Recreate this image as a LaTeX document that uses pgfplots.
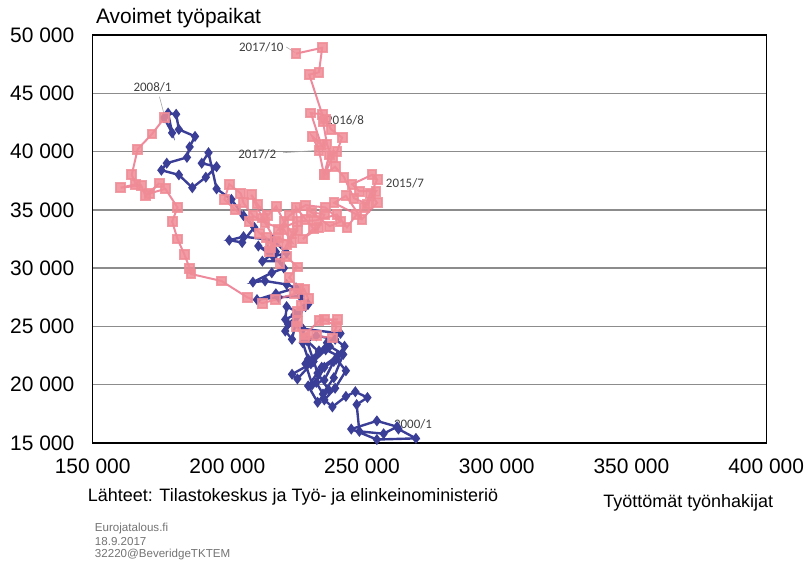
\documentclass[border=0pt]{standalone}
\usepackage{fontspec}
\setmainfont{Liberation Sans}
\newfontfamily\lblfont{Carlito}
\usepackage{pgfplots}
\pgfplotsset{compat=1.18}

\definecolor{bluel}{RGB}{58,62,150}
\definecolor{pinkl}{RGB}{236,118,140}
\definecolor{pinkm}{RGB}{240,140,150}
\definecolor{gridc}{RGB}{140,140,140}

% kuukausittaiset arvot (tuhansina): tyottomat tyonhakijat, avoimet tyopaikat
\pgfplotstableread{
x y
263.5 16.2
270.0 15.4
255.5 15.3
246.0 16.2
255.5 16.9
263.0 16.4
258.0 15.8
249.0 16.0
248.0 18.3
252.0 18.9
247.5 19.4
244.0 19.0
239.0 18.1
236.0 18.7
240.0 19.7
244.0 21.2
240.5 22.2
236.0 21.5
233.0 20.2
235.5 19.2
239.5 20.6
243.0 22.6
238.0 23.3
232.0 22.0
226.0 20.5
224.0 20.9
231.0 21.8
237.0 23.6
234.0 22.8
229.5 23.8
233.5 21.0
237.5 19.6
233.5 18.5
230.0 19.9
235.0 21.5
241.0 22.5
236.5 23.0
230.0 22.2
228.0 23.6
233.0 24.2
240.0 23.9
243.5 23.3
239.5 22.0
236.0 20.4
231.5 20.0
229.0 21.8
234.0 22.9
242.0 24.4
228.0 24.8
222.5 25.2
226.0 25.9
224.0 23.9
221.5 24.6
229.0 26.7
226.5 26.2
222.0 26.7
221.5 25.6
225.0 26.0
230.0 26.9
227.0 27.6
219.0 27.5
211.0 27.3
218.0 27.8
225.5 28.3
222.0 28.6
214.0 28.9
209.5 28.8
216.5 29.6
221.0 30.0
220.0 30.6
213.0 30.6
218.0 31.4
215.0 31.5
211.5 31.9
217.0 31.0
222.0 31.3
217.0 32.4
206.0 32.7
200.7 32.4
205.5 32.2
210.0 33.5
206.0 34.5
201.5 35.9
196.0 36.8
193.0 39.9
190.5 39.0
196.0 38.7
192.0 37.8
187.0 36.9
182.0 38.0
175.5 38.4
177.5 39.0
185.0 39.5
186.0 40.4
188.0 41.3
182.0 41.9
181.0 43.2
178.0 43.3
179.5 41.6
176.5 42.9
}\blueseries

\pgfplotstableread{
x y
176.7 42.9
172.0 41.5
166.7 40.2
164.5 38.0
166.0 37.2
160.4 36.9
168.0 37.1
169.6 36.2
174.8 37.3
171.0 36.4
177.0 36.8
181.5 35.2
179.5 34.0
181.5 32.5
184.0 31.2
186.0 30.0
186.5 29.5
197.8 28.9
207.4 27.5
213.0 27.0
218.0 27.3
225.0 27.8
228.5 28.2
230.0 27.4
226.0 26.3
225.5 25.0
228.5 24.0
233.0 24.2
239.0 24.0
240.5 25.0
236.0 25.6
241.0 25.6
234.0 25.5
229.0 24.3
226.0 25.4
227.5 26.8
226.5 28.3
223.0 29.2
226.0 30.1
222.0 31.0
219.5 30.4
216.0 31.8
219.0 32.6
224.0 32.2
221.0 33.3
214.0 33.9
209.5 34.5
206.0 35.6
205.0 36.4
200.7 37.2
198.9 35.9
203.0 35.0
208.0 34.0
212.0 33.0
214.5 32.6
215.6 31.4
218.0 32.3
213.0 34.3
208.9 36.3
211.1 35.5
215.0 34.5
218.1 35.3
221.0 34.0
224.0 33.0
222.0 32.0
226.0 33.2
225.5 35.2
229.0 34.2
232.0 33.4
228.0 32.5
234.0 33.5
236.0 34.6
231.1 34.8
238.0 33.6
242.0 34.0
236.5 35.2
229.0 35.4
223.0 34.5
219.0 33.3
226.0 34.0
233.0 34.1
240.7 34.6
244.4 33.5
248.0 34.6
239.6 35.6
244.0 36.2
250.0 34.2
255.6 35.6
253.0 36.4
251.0 35.2
255.6 37.6
253.7 38.0
246.3 37.2
249.0 36.6
255.2 36.6
252.0 35.5
247.0 36.0
243.3 37.8
240.0 38.7
236.0 38.0
239.0 39.5
237.0 40.6
235.5 42.6
236.5 42.8
238.5 41.9
242.6 41.2
240.7 40.0
237.8 39.7
235.9 38.0
234.0 40.1
231.5 41.3
234.8 40.6
231.0 43.3
235.2 43.2
230.4 46.6
234.0 46.8
235.2 48.9
225.5 48.4
}\pinkseries

\begin{document}
\begin{tikzpicture}
\begin{axis}[
    scale only axis,
    width=337.5pt, height=204.5pt,
    xmin=150, xmax=400, ymin=15, ymax=50,
    clip=false,
    axis line style={black, line width=0.6pt},
    major tick length=0pt,
    xtick={150,200,250,300,350,400},
    xticklabels={150 000,200 000,250 000,300 000,350 000,400 000},
    ytick={15,20,25,30,35,40,45,50},
    yticklabels={15 000,20 000,25 000,30 000,35 000,40 000,45 000,50 000},
    ticklabel style={font=\fontsize{10.5}{12}\selectfont, inner sep=0pt},
    xticklabel style={yshift=-7.5pt},
    yticklabel style={xshift=-9pt},
    ymajorgrids=true,
    grid style={gridc, line width=0.7pt},
  ]
  % kuvan rajat
  \path (axis cs:115.6,4.65) rectangle (axis cs:413.3,53.0);

  \addplot[bluel, line width=1.2pt, mark=diamond*, mark size=1.8pt,
    mark options={fill=bluel, draw=bluel}] table {\blueseries};
  \addplot[pinkl, line width=1pt, opacity=0.85, mark=square*, mark size=2.2pt,
    mark options={fill=pinkm, draw=pinkm}] table {\pinkseries};

  \node[anchor=west, font=\fontsize{10.5}{12}\selectfont, inner sep=0pt]
    at (axis cs:151.1,51.45) {Avoimet työpaikat};

  % pisteiden nimet
  \begin{scope}[every node/.style={font=\lblfont\fontsize{6.5}{7}\selectfont, text=black!75, inner sep=0pt}]
    \node at (axis cs:212.6,48.97) {2017/10};
    \draw[gray!70, line width=0.3pt] (axis cs:221.9,48.97) -- (axis cs:225.0,48.5);
    \node at (axis cs:211.1,39.8) {2017/2};
    \draw[gray!70, line width=0.3pt] (axis cs:220.7,39.9) -- (axis cs:233.5,40.1);
    \node at (axis cs:172.2,45.55) {2008/1};
    \draw[gray!70, line width=0.3pt] (axis cs:174.8,44.7) -- (axis cs:176.4,43.3);
    \node at (axis cs:243.7,42.72) {2016/8};
    \node at (axis cs:265.9,37.25) {2015/7};
    \node at (axis cs:268.9,16.63) {2000/1};
  \end{scope}

  \node[anchor=west, font=\fontsize{9}{10}\selectfont, inner sep=0pt]
    at (axis cs:148.1,10.38) {Lähteet: Tilastokeskus ja Työ- ja elinkeinoministeriö};
  \node[font=\fontsize{9}{10}\selectfont, inner sep=0pt]
    at (axis cs:371.1,9.87) {Työttömät työnhakijat};

  \begin{scope}[every node/.style={anchor=west, font=\fontsize{5.8}{6}\selectfont, text=black!55, inner sep=0pt}]
    \node at (axis cs:150.7,7.64) {Eurojatalous.fi};
    \node at (axis cs:150.7,6.53) {18.9.2017};
    \node at (axis cs:150.7,5.42) {32220@BeveridgeTKTEM};
  \end{scope}
\end{axis}
\end{tikzpicture}
\end{document}
